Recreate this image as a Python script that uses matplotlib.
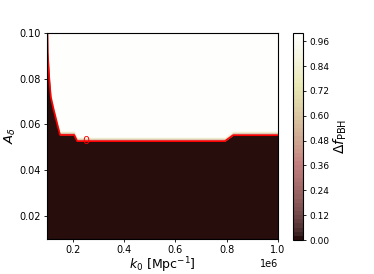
"""Threshold map of Delta f_PBH over (k0, A_delta)."""

import matplotlib
matplotlib.use("Agg")
import matplotlib.pyplot as plt
from matplotlib import cm
from matplotlib.colors import BoundaryNorm, ListedColormap
import numpy as np

# boundary where Delta f_PBH jumps from 0 (below) to 1 (above)
K_EDGE = [0.100e6, 0.101e6, 0.107e6, 0.113e6, 0.123e6, 0.139e6, 0.149e6,
          0.204e6, 0.216e6, 0.793e6, 0.825e6, 1.000e6]
A_EDGE = [0.1000, 0.0913, 0.0800, 0.0719, 0.0669, 0.0597, 0.0554,
          0.0554, 0.0527, 0.0527, 0.0553, 0.0553]
LEVELS = np.linspace(0, 1, 51)
CB_TICKS = [0.00, 0.12, 0.24, 0.36, 0.48, 0.60, 0.72, 0.84, 0.96]

k = np.array(K_EDGE)
edge = np.array(A_EDGE)
pink = plt.get_cmap("pink")
# one flat colour per contour band, as contourf would give
mids = 0.5 * (LEVELS[:-1] + LEVELS[1:])
band_cmap = ListedColormap(pink(mids))
norm = BoundaryNorm(LEVELS, band_cmap.N)
ramp = 0.0019  # A_delta width of the smeared 0 -> 1 step
nband = 12

plt.rcParams["font.size"] = 7
fig = plt.figure(figsize=(3.74, 2.74), dpi=100)
ax = fig.add_axes([0.127, 0.128, 0.616, 0.752])
cax = fig.add_axes([0.783, 0.124, 0.027, 0.756])

ax.set_xlim(0.1e6, 1.0e6)
ax.set_ylim(0.01, 0.1)
ax.set_facecolor(pink(0.99))
ax.fill_between(k, 0.0, edge, color=pink(0.01), lw=0)
for i in range(nband):
    val = (i + 0.5) / nband
    ax.fill_between(k, edge + i * ramp / nband, edge + (i + 1) * ramp / nband,
                    color=band_cmap(norm(val)), lw=0)
ax.plot(k, edge, color="red", lw=1.2)
ax.text(0.25e6, 0.0527, "0", color="red", fontsize=8, ha="center", va="center")

ax.set_yticks([0.02, 0.04, 0.06, 0.08, 0.10])
ax.set_xlabel(r"$k_0$ [Mpc$^{-1}$]", fontsize=9, labelpad=0)
ax.set_ylabel(r"$A_\delta$", fontsize=9.5, labelpad=1)
ax.tick_params(length=2.5, width=0.6, pad=2)

cb = fig.colorbar(cm.ScalarMappable(norm=norm, cmap=band_cmap), cax=cax)
cb.set_ticks(CB_TICKS)
cb.minorticks_off()
cb.set_label(r"$\Delta f_{\rm PBH}$", fontsize=10, labelpad=2)
cb.ax.tick_params(length=2.5, width=0.6, pad=2, labelsize=6.5)

fig.savefig("out.png", dpi=100)
